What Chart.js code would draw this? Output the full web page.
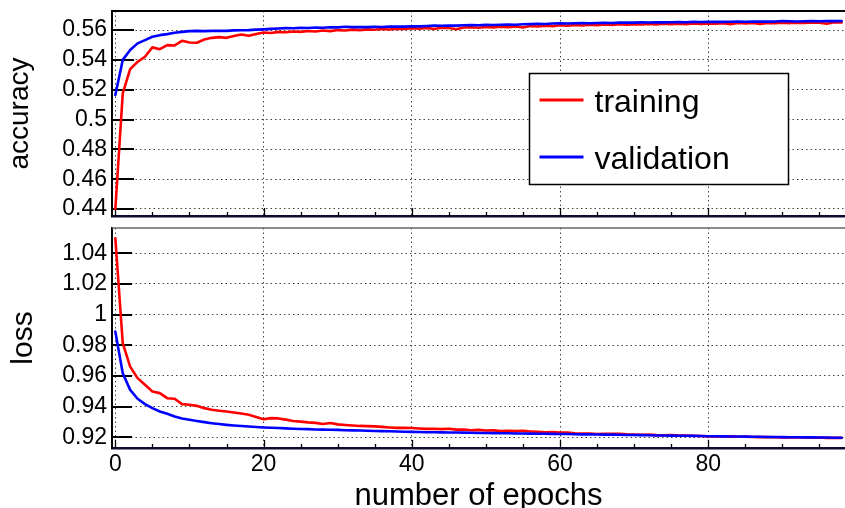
<!DOCTYPE html>
<html>
<head>
<meta charset="utf-8">
<script src="https://cdn.jsdelivr.net/npm/chart.js@4.4.1/dist/chart.umd.min.js"></script>
<style>
  html, body { margin: 0; padding: 0; background: #fff; }
  #wrap { position: relative; width: 845px; height: 508px; overflow: hidden; }
  #acc { position: absolute; left: 0; top: 0; }
  #loss { position: absolute; left: 0; top: 222px; }
</style>
</head>
<body>
<div id="wrap">
  <canvas id="acc" width="845" height="222"></canvas>
  <canvas id="loss" width="845" height="286"></canvas>
</div>
<script>
// Epoch index shared by both panels
const epochs = Array.from({ length: 99 }, (_, i) => i);

const accTraining = [
  0.4400, 0.5175, 0.5338, 0.5387, 0.5421, 0.5484, 0.5472, 0.5499, 0.5497, 0.5528,
  0.5517, 0.5515, 0.5537, 0.5548, 0.5553, 0.5548, 0.5560, 0.5571, 0.5562, 0.5574,
  0.5584, 0.5580, 0.5588, 0.5585, 0.5591, 0.5588, 0.5594, 0.5590, 0.5597, 0.5593,
  0.5600, 0.5597, 0.5603, 0.5600, 0.5605, 0.5602, 0.5607, 0.5604, 0.5610, 0.5608,
  0.5613, 0.5610, 0.5615, 0.5607, 0.5616, 0.5614, 0.5606, 0.5617, 0.5619, 0.5616,
  0.5621, 0.5618, 0.5623, 0.5620, 0.5625, 0.5617, 0.5627, 0.5624, 0.5629, 0.5626,
  0.5632, 0.5629, 0.5634, 0.5631, 0.5636, 0.5633, 0.5637, 0.5634, 0.5639, 0.5636,
  0.5640, 0.5637, 0.5641, 0.5638, 0.5642, 0.5639, 0.5643, 0.5640, 0.5644, 0.5641,
  0.5645, 0.5643, 0.5646, 0.5640, 0.5647, 0.5644, 0.5648, 0.5641, 0.5648, 0.5646,
  0.5649, 0.5647, 0.5650, 0.5648, 0.5651, 0.5649, 0.5643, 0.5652, 0.5651
];

const accValidation = [
  0.5164, 0.5400, 0.5466, 0.5511, 0.5533, 0.5555, 0.5566, 0.5573, 0.5582, 0.5588,
  0.5593, 0.5595, 0.5593, 0.5595, 0.5596, 0.5595, 0.5598, 0.5599, 0.5600, 0.5603,
  0.5605, 0.5608, 0.5611, 0.5613, 0.5612, 0.5615, 0.5614, 0.5617, 0.5616, 0.5619,
  0.5618, 0.5622, 0.5620, 0.5621, 0.5620, 0.5622, 0.5621, 0.5623, 0.5624, 0.5623,
  0.5626, 0.5625, 0.5627, 0.5630, 0.5629, 0.5631, 0.5630, 0.5632, 0.5633, 0.5632,
  0.5635, 0.5634, 0.5636, 0.5637, 0.5636, 0.5639, 0.5640, 0.5642, 0.5641, 0.5644,
  0.5645, 0.5644, 0.5646, 0.5647, 0.5646, 0.5648, 0.5649, 0.5648, 0.5650, 0.5651,
  0.5650, 0.5652, 0.5651, 0.5653, 0.5652, 0.5653, 0.5654, 0.5653, 0.5655, 0.5654,
  0.5655, 0.5656, 0.5655, 0.5656, 0.5657, 0.5656, 0.5657, 0.5658, 0.5657, 0.5658,
  0.5661, 0.5659, 0.5658, 0.5659, 0.5660, 0.5659, 0.5661, 0.5660, 0.5661
];

const lossTraining = [
  1.0498, 0.9814, 0.9661, 0.9586, 0.9542, 0.9498, 0.9488, 0.9455, 0.9451, 0.9416,
  0.9412, 0.9405, 0.9390, 0.9379, 0.9373, 0.9368, 0.9362, 0.9355, 0.9347, 0.9333,
  0.9318, 0.9325, 0.9323, 0.9315, 0.9306, 0.9302, 0.9297, 0.9294, 0.9287, 0.9293,
  0.9284, 0.9280, 0.9277, 0.9274, 0.9273, 0.9271, 0.9268, 0.9264, 0.9261, 0.9262,
  0.9260, 0.9257, 0.9255, 0.9256, 0.9253, 0.9256, 0.9250, 0.9251, 0.9246, 0.9248,
  0.9244, 0.9245, 0.9241, 0.9242, 0.9240, 0.9242, 0.9238, 0.9235, 0.9233, 0.9234,
  0.9230, 0.9231, 0.9226, 0.9224, 0.9225, 0.9221, 0.9223, 0.9222, 0.9223, 0.9219,
  0.9218, 0.9216, 0.9217, 0.9214, 0.9213, 0.9215, 0.9211, 0.9212, 0.9210, 0.9208,
  0.9206, 0.9207, 0.9205, 0.9206, 0.9203, 0.9204, 0.9202, 0.9201, 0.9202, 0.9200,
  0.9199, 0.9200, 0.9198, 0.9199, 0.9197, 0.9198, 0.9196, 0.9197, 0.9196
];

const lossValidation = [
  0.9889, 0.9618, 0.9509, 0.9451, 0.9416, 0.9390, 0.9368, 0.9353, 0.9336, 0.9322,
  0.9314, 0.9306, 0.9299, 0.9292, 0.9286, 0.9281, 0.9277, 0.9273, 0.9270, 0.9267,
  0.9264, 0.9262, 0.9260, 0.9258, 0.9256, 0.9254, 0.9253, 0.9251, 0.9250, 0.9249,
  0.9248, 0.9246, 0.9245, 0.9244, 0.9243, 0.9241, 0.9240, 0.9239, 0.9238, 0.9236,
  0.9235, 0.9234, 0.9233, 0.9233, 0.9232, 0.9231, 0.9231, 0.9230, 0.9229, 0.9228,
  0.9228, 0.9227, 0.9226, 0.9226, 0.9225, 0.9225, 0.9224, 0.9223, 0.9223, 0.9222,
  0.9221, 0.9221, 0.9220, 0.9219, 0.9219, 0.9218, 0.9217, 0.9217, 0.9216, 0.9215,
  0.9215, 0.9214, 0.9213, 0.9212, 0.9212, 0.9211, 0.9210, 0.9210, 0.9209, 0.9208,
  0.9207, 0.9207, 0.9206, 0.9205, 0.9205, 0.9204, 0.9203, 0.9203, 0.9202, 0.9202,
  0.9201, 0.9200, 0.9200, 0.9199, 0.9199, 0.9198, 0.9198, 0.9197, 0.9197
];

// Tick values and their printed labels
const epochTicks = [0, 20, 40, 60, 80];
const epochLabels = ['0', '20', '40', '60', '80'];
const accTicks = [0.44, 0.46, 0.48, 0.50, 0.52, 0.54, 0.56];
const accLabels = ['0.44', '0.46', '0.48', '0.5', '0.52', '0.54', '0.56'];
const lossTicks = [0.92, 0.94, 0.96, 0.98, 1.00, 1.02, 1.04];
const lossLabels = ['0.92', '0.94', '0.96', '0.98', '1', '1.02', '1.04'];

const seriesNames = ['training', 'validation'];
const seriesColors = { training: '#ff0000', validation: '#0000ff' };

// Axis ranges
const X_RANGE = [-0.45, 98.45];
const ACC_RANGE = [0.4353, 0.5728];
const LOSS_RANGE = [0.9130, 1.0565];

const TEXT_FAMILY = 'Liberation Sans, Arial, Helvetica, sans-serif';
const TICK_FONT = { family: TEXT_FAMILY, size: 23 };
const GRID_DASH = [1.5, 3];

// Inward tick marks, the top edge of each panel frame and the optional legend box
const panelFrame = {
  id: 'panelFrame',
  beforeDatasetsDraw(chart, args, opts) {
    const { ctx, chartArea: a, scales: { x, y } } = chart;
    const seg = (x1, y1, x2, y2) => { ctx.beginPath(); ctx.moveTo(x1, y1); ctx.lineTo(x2, y2); ctx.stroke(); };
    ctx.save();
    ctx.strokeStyle = '#000';
    ctx.lineWidth = 2;
    y.ticks.forEach(t => {
      const py = Math.round(y.getPixelForValue(t.value));
      seg(a.left, py, a.left + opts.yTickLen, py);
    });
    ctx.lineWidth = 1.3;
    const majorStep = epochTicks[1] - epochTicks[0];
    const step = majorStep / 4;
    for (let v = epochTicks[0]; v <= x.max; v += step) {
      const px = Math.round(x.getPixelForValue(v)) + 0.5;
      seg(px, a.bottom, px, a.bottom - (v % majorStep === 0 ? 8 : 4));
    }
    ctx.strokeStyle = opts.topColor;
    ctx.lineWidth = opts.topWidth;
    seg(a.left, a.top, a.right, a.top);
    ctx.restore();
  },
  afterDatasetsDraw(chart, args, opts) {
    if (!opts.legend) return;
    const { ctx } = chart;
    const L = opts.legend;
    ctx.save();
    ctx.fillStyle = '#fff';
    ctx.fillRect(L.x, L.y, L.w, L.h);
    ctx.strokeStyle = '#000';
    ctx.lineWidth = 1.5;
    ctx.strokeRect(L.x, L.y, L.w, L.h);
    ctx.font = L.fontSize + 'px ' + TEXT_FAMILY;
    ctx.textAlign = 'left';
    ctx.textBaseline = 'alphabetic';
    seriesNames.forEach((name, i) => {
      const ds = chart.data.datasets.find(d => d.label === name);
      const ly = L.firstLineY + i * L.rowGap;
      ctx.strokeStyle = ds.borderColor;
      ctx.lineWidth = 3;
      ctx.beginPath();
      ctx.moveTo(L.x + 10, ly);
      ctx.lineTo(L.x + 54, ly);
      ctx.stroke();
      ctx.fillStyle = '#000';
      ctx.fillText(ds.label, L.x + 65, ly + 11.5);
    });
    ctx.restore();
  }
};

function makeDatasets(train, valid) {
  const pts = arr => epochs.map((e, i) => ({ x: e, y: arr[i] }));
  return [
    { label: 'training', data: pts(train), borderColor: seriesColors.training, order: 1 },
    { label: 'validation', data: pts(valid), borderColor: seriesColors.validation, order: 0 }
  ].map(d => Object.assign(d, {
    borderWidth: 2.6, pointRadius: 0, tension: 0, fill: false,
    borderJoinStyle: 'round', borderCapStyle: 'round'
  }));
}

function zeroPad(s) { s.paddingTop = 0; s.paddingBottom = 0; s.paddingLeft = 0; s.paddingRight = 0; }

function makePanel(id, cfg) {
  return new Chart(document.getElementById(id), {
    type: 'line',
    data: { datasets: makeDatasets(cfg.train, cfg.valid) },
    options: {
      responsive: false,
      animation: false,
      devicePixelRatio: 1,
      parsing: false,
      layout: { padding: { top: cfg.padTop, left: 0, right: 0, bottom: 0 } },
      plugins: {
        legend: { display: false },
        tooltip: { enabled: false },
        panelFrame: { yTickLen: cfg.yTickLen, topColor: cfg.topColor, topWidth: cfg.topWidth, legend: cfg.legend }
      },
      scales: {
        x: {
          type: 'linear',
          min: X_RANGE[0], max: X_RANGE[1],
          afterBuildTicks: s => { s.ticks = epochTicks.map(v => ({ value: v })); },
          afterFit: s => { s.height = cfg.xHeight; zeroPad(s); },
          ticks: {
            display: cfg.showX, autoSkip: false, maxRotation: 0, color: '#000',
            font: TICK_FONT, padding: 3,
            callback: (v, i) => epochLabels[i]
          },
          grid: { color: '#444', lineWidth: 1, drawTicks: false },
          border: { display: true, color: '#0d0d33', width: 2.5, dash: GRID_DASH },
          title: {
            display: cfg.showX, text: 'number of epochs', color: '#000',
            font: { family: TEXT_FAMILY, size: 31, lineHeight: 1 },
            padding: { top: 0, bottom: -4 }
          }
        },
        y: {
          min: cfg.yRange[0], max: cfg.yRange[1],
          afterBuildTicks: s => { s.ticks = cfg.yTicks.map(v => ({ value: v })); },
          afterFit: s => { s.width = 112; zeroPad(s); },
          ticks: {
            autoSkip: false, color: '#000', font: TICK_FONT, padding: 5,
            callback: (v, i) => cfg.yLabels[i]
          },
          grid: { color: '#444', lineWidth: 1, drawTicks: false },
          border: { display: true, color: '#000', width: 2, dash: GRID_DASH },
          title: {
            display: true, text: cfg.yTitle, color: '#000',
            font: { family: TEXT_FAMILY, size: cfg.yTitleSize, lineHeight: 1 },
            padding: { top: cfg.yTitlePad, bottom: 0 }
          }
        }
      }
    },
    plugins: [panelFrame]
  });
}

makePanel('acc', {
  train: accTraining, valid: accValidation,
  yRange: ACC_RANGE, yTicks: accTicks, yLabels: accLabels,
  yTitle: 'accuracy', yTitleSize: 28, yTitlePad: 6,
  padTop: 11, xHeight: 6, showX: false, yTickLen: 22,
  topColor: '#000', topWidth: 2,
  legend: { x: 529.5, y: 73.5, w: 259, h: 111, fontSize: 32, firstLineY: 100, rowGap: 57 }
});

makePanel('loss', {
  train: lossTraining, valid: lossValidation,
  yRange: LOSS_RANGE, yTicks: lossTicks, yLabels: lossLabels,
  yTitle: 'loss', yTitleSize: 30, yTitlePad: 9,
  padTop: 6, xHeight: 60, showX: true, yTickLen: 20,
  topColor: '#666', topWidth: 1.5,
  legend: null
});
</script>
</body>
</html>
